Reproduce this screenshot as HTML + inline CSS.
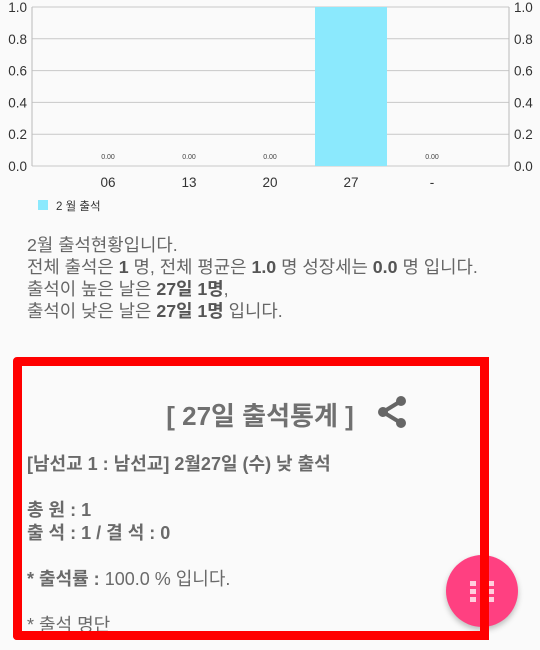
<!DOCTYPE html>
<html><head><meta charset="utf-8"><style>
html,body{margin:0;padding:0;width:540px;height:650px;overflow:hidden;background:#fafafa;font-family:"Liberation Sans","Noto Sans CJK KR",sans-serif;}
#chart{position:absolute;left:0;top:0}
.desc{position:absolute;left:27px;top:234px;font-size:17.8px;line-height:22px;color:#666;white-space:nowrap;}
.desc b{color:#555}
.card{position:absolute;left:13px;top:357px;width:458px;height:265px;border:9px solid #ff0000;border-radius:4px;background:#fafafa;overflow:hidden;}
.title{position:absolute;left:9px;width:100%;top:30px;text-align:center;font-size:26px;font-weight:bold;color:#707070;}
.body{position:absolute;left:5px;top:87px;font-size:18px;line-height:23px;color:#6a6a6a;white-space:nowrap;}
.fab{position:absolute;left:446px;top:555px;width:72px;height:72px;border-radius:50%;background:#ff4081;box-shadow:0 3px 6px rgba(0,0,0,.25);z-index:5;}
.redv{position:absolute;left:480px;top:357px;width:9px;height:283px;background:#ff0000;z-index:10;}
.redb{position:absolute;left:13px;top:631px;width:476px;height:9px;background:#f00;border-radius:0 0 4px 4px;z-index:10;}
</style></head><body>
<svg id="chart" width="540" height="220"></svg>
<div class="desc">2월 출석현황입니다.<br>전체 출석은 <b>1</b> 명, 전체 평균은 <b>1.0</b> 명 성장세는 <b>0.0</b> 명 입니다.<br>출석이 높은 날은 <b>27일 1명</b>,<br>출석이 낮은 날은 <b>27일 1명</b> 입니다.</div>
<div class="card">
 <div class="title">[ 27일 출석통계 ]</div>
 <svg style="position:absolute;left:353px;top:28px" width="34" height="36" viewBox="0 0 34 36">
  <line x1="8" y1="18" x2="26" y2="7" stroke="#666" stroke-width="4"/><line x1="8" y1="18" x2="26" y2="29" stroke="#666" stroke-width="4"/>
  <circle cx="8" cy="18" r="5" fill="#666"/><circle cx="26" cy="7" r="5" fill="#666"/><circle cx="26" cy="29" r="5" fill="#666"/>
 </svg>
 <div class="body"><b>[남선교 1 : 남선교] 2월27일 (수) 낮 출석</b><br><br><b>총 원 : 1<br>출 석 : 1 / 결 석 : 0</b><br><br><b>* 출석률 :</b> 100.0 % 입니다.<br><br>* 출석 명단<br>[홍길동]</div>
</div>
<div class="fab">
 <svg width="72" height="72" style="position:absolute;left:0;top:0"><g fill="#ffd0de"><rect x="24" y="26" width="6" height="5"/><rect x="42" y="26" width="6" height="5"/><rect x="24" y="34" width="6" height="5"/><rect x="42" y="34" width="6" height="5"/><rect x="24" y="42" width="6" height="5"/><rect x="42" y="42" width="6" height="5"/></g></svg>
</div>
<div class="redv"></div>
<div class="redb"></div>
<script>
const categories=["06","13","20","27","-"];
const values=[0,0,0,1,0];
const ticks=[0,0.2,0.4,0.6,0.8,1.0];
const NS="http://www.w3.org/2000/svg";
const svg=document.getElementById('chart');
const L=32,R=509,T=7,B=166;
const y=v=>B-(v/1.0)*(B-T);
const x=i=>108+i*81;
function mk(t,a,txt){const e=document.createElementNS(NS,t);for(const k in a)e.setAttribute(k,a[k]);if(txt!==undefined)e.textContent=txt;svg.appendChild(e);return e;}
ticks.forEach(t=>{
 const g=mk('line',{x1:L,x2:R,y1:y(t),y2:y(t),stroke:'#c8c8c8','stroke-width':1});
 
 
 const a=mk('text',{x:L-5,y:y(t)+5,'text-anchor':'end','font-size':13.5,fill:'#333'},t.toFixed(1));
 
 
 const b=mk('text',{x:R+5,y:y(t)+5,'text-anchor':'start','font-size':13.5,fill:'#333'},t.toFixed(1));
 
 
});
mk('line',{x1:L,x2:L,y1:T,y2:B,stroke:'#bbb'});
mk('line',{x1:R,x2:R,y1:T,y2:B,stroke:'#bbb'});
categories.forEach((c,i)=>{
 const bw=72;
 if(values[i]>0){
  const r=mk('rect',{x:x(i)-bw/2,y:y(values[i]),width:bw,height:B-y(values[i]),fill:'#8be9fd'});
  
  
 }
 const v=mk('text',{x:x(i),y:y(values[i])-7,'text-anchor':'middle','font-size':7,fill:'#444'},values[i].toFixed(2));
 
 
 const xl=mk('text',{x:x(i),y:187,'text-anchor':'middle','font-size':13.5,fill:'#333'},c);
 
 
});
const lg=mk('rect',{x:38,y:200,width:10,height:10,fill:'#8be9fd'});


const lt=mk('text',{x:56,y:210,'font-size':11.5,fill:'#333'},'2 월 출석');


</script>
</body></html>
